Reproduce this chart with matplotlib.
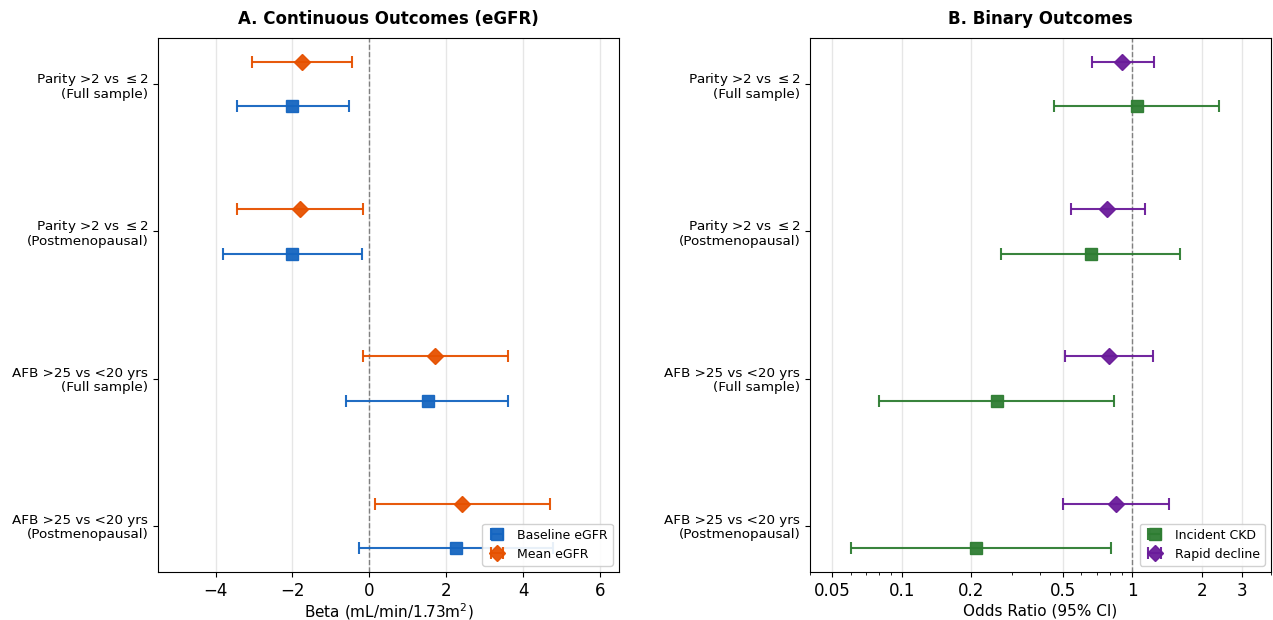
import matplotlib
matplotlib.use("Agg")
import matplotlib.pyplot as plt
import numpy as np

rows = ["Parity >2 vs $\\leq 2$\n(Full sample)",
        "Parity >2 vs $\\leq 2$\n(Postmenopausal)",
        "AFB >25 vs <20 yrs\n(Full sample)",
        "AFB >25 vs <20 yrs\n(Postmenopausal)"]

# Panel A: continuous outcomes (beta, lower, upper)
base_beta = [-2.00, -2.00, 1.52, 2.25]
base_lo = [-3.44, -3.82, -0.60, -0.28]
base_hi = [-0.54, -0.18, 3.62, 4.78]
mean_beta = [-1.74, -1.80, 1.71, 2.42]
mean_lo = [-3.06, -3.45, -0.17, 0.14]
mean_hi = [-0.45, -0.16, 3.62, 4.70]

# Panel B: binary outcomes (OR, lower, upper)
ckd_or = [1.05, 0.66, 0.26, 0.21]
ckd_lo = [0.46, 0.27, 0.080, 0.060]
ckd_hi = [2.37, 1.61, 0.83, 0.81]
rap_or = [0.905, 0.777, 0.790, 0.847]
rap_lo = [0.669, 0.541, 0.509, 0.500]
rap_hi = [1.24, 1.139, 1.226, 1.447]

c_base, c_mean = "#1565C0", "#E65100"
c_ckd, c_rap = "#2E7D32", "#6A1B9A"

fig = plt.figure(figsize=(12.73, 6.2), dpi=100)
ax1 = fig.add_axes([0.1241, 0.0774, 0.3622, 0.8613])
ax2 = fig.add_axes([0.6363, 0.0774, 0.3621, 0.8613])

y = np.arange(len(rows))
off = 0.15


def plot_pair(ax, est1, lo1, hi1, est2, lo2, hi2, col1, col2, lab1, lab2):
    est1, lo1, hi1 = map(np.array, (est1, lo1, hi1))
    est2, lo2, hi2 = map(np.array, (est2, lo2, hi2))
    ax.errorbar(est1, y + off, xerr=[est1 - lo1, hi1 - est1], fmt="s", color=col1,
                ecolor=col1, elinewidth=1.5, capsize=4, capthick=1.5, markersize=9,
                markeredgecolor=col1, label=lab1, zorder=3, alpha=0.95)
    ax.errorbar(est2, y - off, xerr=[est2 - lo2, hi2 - est2], fmt="D", color=col2,
                ecolor=col2, elinewidth=1.5, capsize=4, capthick=1.5, markersize=8,
                markeredgecolor=col2, label=lab2, zorder=3, alpha=0.95)
    ax.set_yticks(y)
    ax.set_yticklabels(rows, fontsize=9.7, linespacing=1.05)
    ax.invert_yaxis()
    ax.grid(axis="x", color="#e6e6e6", linewidth=1, zorder=0)
    ax.set_axisbelow(True)
    ax.tick_params(axis="x", labelsize=12)
    ax.legend(loc="lower right", fontsize=9, framealpha=0.9, handlelength=1.6)


plot_pair(ax1, base_beta, base_lo, base_hi, mean_beta, mean_lo, mean_hi,
          c_base, c_mean, "Baseline eGFR", "Mean eGFR")
ax1.axvline(0, color="gray", linestyle="--", linewidth=1, zorder=1)
ax1.set_xlim(-5.5, 6.5)
ax1.set_xticks([-4, -2, 0, 2, 4, 6])
ax1.set_xlabel("Beta (mL/min/1.73m$^2$)", fontsize=11, labelpad=1)
ax1.set_title("A. Continuous Outcomes (eGFR)", fontsize=12, fontweight="bold", pad=10)

plot_pair(ax2, ckd_or, ckd_lo, ckd_hi, rap_or, rap_lo, rap_hi,
          c_ckd, c_rap, "Incident CKD", "Rapid decline")
ax2.axvline(1, color="gray", linestyle="--", linewidth=1, zorder=1)
ax2.set_xscale("log")
ax2.set_xlim(0.04, 4.0)
ticks = [0.05, 0.1, 0.2, 0.5, 1, 2, 3]
ax2.set_xticks(ticks)
ax2.set_xticklabels(["0.05", "0.1", "0.2", "0.5", "1", "2", "3"])
ax2.set_xlabel("Odds Ratio (95% CI)", fontsize=11, labelpad=3)
ax2.set_title("B. Binary Outcomes", fontsize=12, fontweight="bold", pad=10)

fig.savefig("out.png", dpi=100)
